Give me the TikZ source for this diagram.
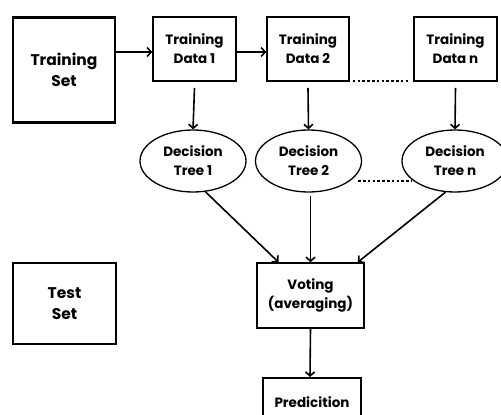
\documentclass[tikz,border=0pt]{standalone}
\usepackage{fontspec}
\setmainfont{Poppins}
\usetikzlibrary{shapes.geometric, calc, arrows.meta}

\begin{document}
\begin{tikzpicture}[x=1pt, y=-1pt,
    box/.style={draw, line width=1.6pt, align=center, inner sep=0pt,
      font=\fontsize{13.5}{19}\selectfont\bfseries},
    bigbox/.style={box, line width=2.4pt, font=\fontsize{15.5}{21}\selectfont\bfseries},
    tree/.style={draw, ellipse, line width=1.3pt, align=center, inner sep=0pt,
      minimum width=106pt, minimum height=62pt, font=\fontsize{13.5}{19}\selectfont\bfseries},
    link/.style={-{Straight Barb[length=4pt, width=9pt]}, line width=1.6pt},
    dots/.style={line width=2.6pt, dash pattern=on 2.6pt off 2.2pt}]
  \useasboundingbox (0,0) rectangle (501,415);
  \clip (0,0) rectangle (501,415);

  % top row
  \node[bigbox, minimum width=102pt, minimum height=105pt] (trainset) at (64,70) {Training\\Set};
  \node[box, minimum width=83pt, minimum height=64pt] (data1) at (194.5,49) {Training\\Data 1};
  \node[box, minimum width=82pt, minimum height=64pt] (data2) at (308,49) {Training\\Data 2};
  \node[box, minimum width=83pt, minimum height=64pt] (datan) at (455.5,49) {Training\\Data n};

  % trees
  \node[tree] (tree1) at (193,161) {Decision\\Tree 1};
  \node[tree] (tree2) at (308.5,161) {Decision\\Tree 2};
  \node[tree] (treen) at (455,161) {Decision\\Tree n};

  % bottom
  \node[bigbox, minimum width=103pt, minimum height=81pt] (testset) at (64.5,303.5) {Test\\Set};
  \node[box, minimum width=107pt, minimum height=65pt] (vote) at (310.5,295.5) {Voting\\(averaging)};
  \node[box, minimum width=98pt, minimum height=48pt, anchor=north] (pred) at (312,377) {Predicition};

  \draw[link] (trainset.east |- data1) ++(0,3) -- ($(data1.west)+(0,3)$);
  \draw[link] ($(data1.east)+(0,3)$) -- ($(data2.west)+(0,3)$);
  \draw[dots] ($(data2.south east)+(3,-1)$) -- ($(datan.south west)+(-3,-1)$);

  \draw[link] ($(data1.south)+(0,6)$) -- (tree1.north);
  \draw[link] ($(data2.south)+(0,6)$) -- (tree2.north);
  \draw[link] ($(datan.south)+(0,6)$) -- (treen.north);
  \draw[dots] ($(tree2.east)+(-4,20)$) -- ($(treen.west)+(10,20)$);

  \draw[link] (tree1.-68) -- ($(vote.north)+(-32,0)$);
  \draw[link] ($(tree2.south)+(2,3)$) -- ($(vote.north)+(0,0)$);
  \draw[link] (treen.-107) -- ($(vote.north east)+(-7,0)$);
  \draw[link] (vote.south) -- ($(pred.north)+(-2,0)$);
\end{tikzpicture}
\end{document}
